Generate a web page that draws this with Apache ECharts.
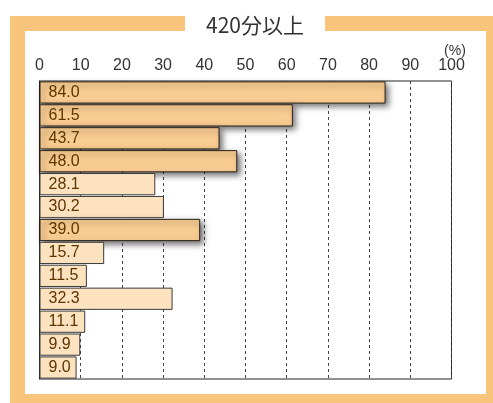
<!DOCTYPE html>
<html><head><meta charset="utf-8">
<script src="https://cdn.jsdelivr.net/npm/echarts@6/dist/echarts.min.js"></script>
<style>html,body{margin:0;padding:0;background:#fff}#c{width:493px;height:403px}</style>
</head><body><div id="c"></div>
<script>
const title = '420分以上';
const categories = ['r1','r2','r3','r4','r5','r6','r7','r8','r9','r10','r11','r12','r13'];
const values = [84.0, 61.5, 43.7, 48.0, 28.1, 30.2, 39.0, 15.7, 11.5, 32.3, 11.1, 9.9, 9.0];
const highlighted = [true, true, true, true, false, false, true, false, false, false, false, false, false];
const xTicks = [0,10,20,30,40,50,60,70,80,90,100];

const DARK = '#f9cc92', LIGHT = '#fde2bf', FRAME = '#f9c47b';
const FONT = '"Liberation Sans", Arial, sans-serif';
const chart = echarts.init(document.getElementById('c'), null, {renderer:'canvas'});
const data = values.map((v,i)=>({
  value: v,
  itemStyle: highlighted[i] ? {
    color: DARK, borderColor:'#2b2118', borderWidth:1,
    shadowColor:'rgba(0,0,0,0.55)', shadowBlur:6, shadowOffsetX:3, shadowOffsetY:3
  } : { color: LIGHT, borderColor:'#3a3a3a', borderWidth:1 }
}));
chart.setOption({
  animation:false,
  graphic:[
    {type:'rect', shape:{x:10,y:16,width:490,height:400}, style:{fill:FRAME}, z:-10},
    {type:'rect', shape:{x:25,y:31,width:461,height:363}, style:{fill:'#fff'}, z:-9},
    {type:'rect', shape:{x:185,y:0,width:140,height:31}, style:{fill:'#fff'}, z:-8},
    {type:'text', style:{text:title, x:255, y:25, textAlign:'center', textVerticalAlign:'middle', fill:'#333', font:'21px "Noto Sans CJK JP", sans-serif'}, z:10},
    {type:'text', style:{text:'(%)', x:455, y:51, textAlign:'center', textVerticalAlign:'middle', fill:'#333', font:'14px ' + FONT}, z:10}
  ],
  grid:{left:39.5, width:412, top:81, height:298, show:true, borderColor:'#222', borderWidth:1, backgroundColor:'transparent'},
  xAxis:{type:'value', position:'top', min:0, max:100, interval:10,
    axisLine:{show:false}, axisTick:{show:false},
    axisLabel:{color:'#333', fontSize:16, fontFamily:FONT, margin:7,
      formatter:v=>xTicks.includes(v)?String(v):''},
    splitLine:{show:true, lineStyle:{color:'#444', type:[3,3], width:1}}
  },
  yAxis:{type:'category', data:categories, inverse:true,
    axisLine:{show:true, lineStyle:{color:'#222'}}, axisTick:{show:false}, axisLabel:{show:false}},
  series:[{type:'bar', data:data, barCategoryGap:'3%',
    label:{show:true, position:'insideLeft', offset:[4,0], color:'#5e3400', fontSize:16,
      fontFamily:FONT, formatter:p=>p.value.toFixed(1)}
  }]
});
</script></body></html>
